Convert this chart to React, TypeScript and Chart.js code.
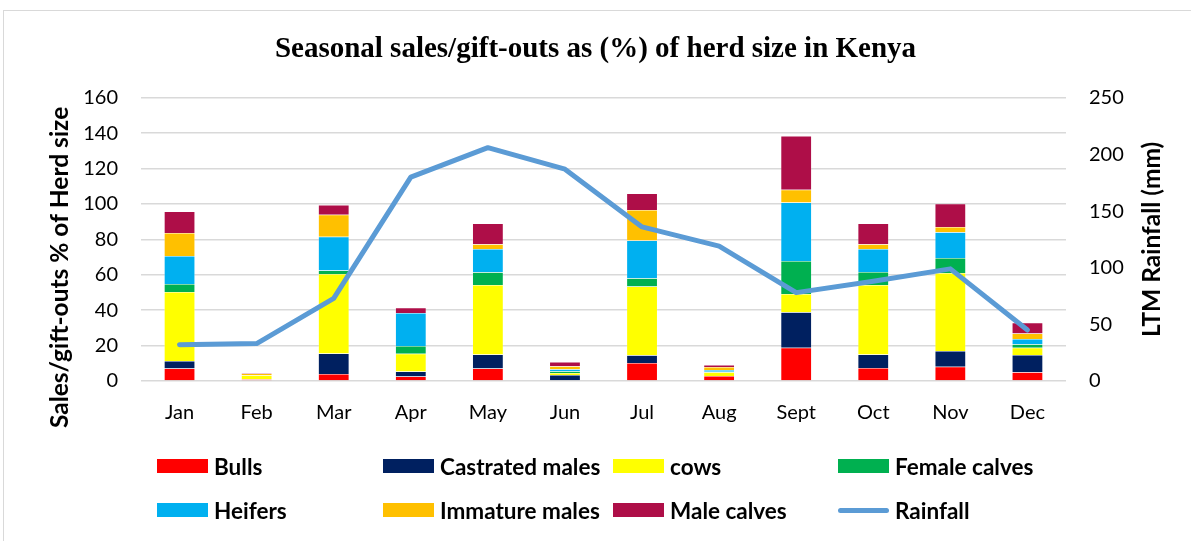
import React, { useEffect, useRef } from "react";
import { Chart, registerables } from "chart.js";

Chart.register(...registerables);

const titleText = "Seasonal sales/gift-outs as (%) of herd size in Kenya";
const leftAxisTitle = "Sales/gift-outs % of Herd size";
const rightAxisTitle = "LTM Rainfall (mm)";

const months = ["Jan", "Feb", "Mar", "Apr", "May", "Jun", "Jul", "Aug", "Sept", "Oct", "Nov", "Dec"];

const bulls = [7, 1, 4, 2.6, 7.1, 0, 10.2, 2.8, 18.8, 7.3, 8.1, 4.9];
const castratedMales = [4.3, 0, 11.6, 2.7, 7.9, 3.4, 4.3, 0, 20, 7.7, 8.8, 9.8];
const cows = [39, 2.3, 44.8, 10.1, 39.2, 1.1, 38.9, 2.1, 10.4, 39.2, 44.1, 4.1];
const femaleCalves = [4.5, 0, 2.1, 4.4, 7.2, 1, 4.6, 0.3, 18.6, 7.4, 8.5, 1.9];
const heifers = [15.8, 0, 19, 18.6, 13.2, 1.1, 21.4, 1.0, 33.1, 13, 14.5, 3];
const immatureMales = [13, 1, 12.4, 0, 2.6, 1.7, 17.2, 1.7, 7.2, 2.6, 3, 3.2];
const maleCalves = [12.1, 0.3, 5.6, 3, 11.8, 2.4, 9.4, 1.1, 30.3, 11.8, 13.2, 6];
const rainfall = [32, 33, 73, 180, 206, 187, 136, 119, 78, 88, 99, 45];

const leftTicks = { min: 0, max: 160, step: 20 };
const rightTicks = { min: 0, max: 250, step: 50 };

const barSeries = [
  { label: "Bulls", data: bulls, color: "#FF0000" },
  { label: "Castrated males", data: castratedMales, color: "#002060" },
  { label: "cows", data: cows, color: "#FFFF00" },
  { label: "Female calves", data: femaleCalves, color: "#00B050" },
  { label: "Heifers", data: heifers, color: "#00B0F0" },
  { label: "Immature males", data: immatureMales, color: "#FFC000" },
  { label: "Male calves", data: maleCalves, color: "#AE0E48" },
];
const rainColor = "#5B9BD5";

const legendOrder = [
  ["Bulls", "Castrated males", "cows", "Female calves"],
  ["Heifers", "Immature males", "Male calves", "Rainfall"],
];

const FONT = "Lato, 'Open Sans', sans-serif";

export default function App() {
  const ref = useRef<HTMLCanvasElement>(null);

  useEffect(() => {
    if (!ref.current) return;
    const axisTitles = {
      id: "axisTitles",
      afterDraw(chart: any) {
        const { ctx, chartArea } = chart;
        const midY = (chartArea.top + chartArea.bottom) / 2;
        ctx.save();
        ctx.font = `bold 24.5px ${FONT}`;
        ctx.fillStyle = "#000";
        ctx.textAlign = "center";
        ctx.textBaseline = "middle";
        ctx.save();
        ctx.translate(chartArea.left - 81, midY + 28);
        ctx.rotate(-Math.PI / 2);
        ctx.fillText(leftAxisTitle, 0, 0);
        ctx.restore();
        ctx.save();
        ctx.translate(chartArea.right + 86, midY);
        ctx.rotate(-Math.PI / 2);
        ctx.fillText(rightAxisTitle, 0, 0);
        ctx.restore();
        ctx.restore();
      },
    };

    const chart = new Chart(ref.current, {
      type: "bar",
      data: {
        labels: months,
        datasets: [
          {
            type: "line",
            label: "Rainfall",
            data: rainfall,
            yAxisID: "y1",
            borderColor: rainColor,
            backgroundColor: rainColor,
            borderWidth: 5,
            pointRadius: 0,
            borderCapStyle: "round",
            borderJoinStyle: "round",
            tension: 0,
            order: 0,
          } as any,
          ...barSeries.map((s) => ({
            type: "bar",
            label: s.label,
            data: s.data,
            backgroundColor: s.color,
            borderColor: "rgba(255,255,255,0.5)",
            borderWidth: 0.5,
            yAxisID: "y",
            stack: "herd",
            barPercentage: 0.4,
            categoryPercentage: 1,
            order: 1,
          })),
        ] as any,
      },
      options: {
        responsive: false,
        animation: false,
        layout: { padding: { top: 0, left: 0, right: 0, bottom: 100 } },
        plugins: {
          legend: { display: false },
          tooltip: { enabled: false },
          title: {
            display: true,
            text: titleText,
            color: "#000",
            font: { family: "'Liberation Serif', 'Times New Roman', serif", size: 29, weight: "bold" },
            padding: { top: 32, bottom: 31 },
          },
        },
        scales: {
          x: {
            stacked: true,
            grid: { display: false, drawTicks: false, tickLength: 0 },
            border: { display: false },
            ticks: { color: "#000", font: { family: FONT, size: 20 }, padding: 20 },
            afterFit: (s: any) => {
              s.height = 60;
            },
          },
          y: {
            stacked: true,
            position: "left",
            min: leftTicks.min,
            max: leftTicks.max,
            ticks: { stepSize: leftTicks.step, color: "#000", font: { family: FONT, size: 20 }, padding: 23 },
            grid: { color: "#D9D9D9", lineWidth: 1.5, drawTicks: false, tickLength: 0 },
            border: { display: false },
            afterFit: (s: any) => {
              s.width = 141;
            },
          },
          y1: {
            position: "right",
            min: rightTicks.min,
            max: rightTicks.max,
            ticks: { stepSize: rightTicks.step, color: "#000", font: { family: FONT, size: 20 }, padding: 23 },
            grid: { display: false, drawTicks: false, tickLength: 0 },
            border: { display: false },
            afterFit: (s: any) => {
              s.width = 125;
            },
          },
        },
      } as any,
      plugins: [axisTitles],
    });
    return () => chart.destroy();
  }, []);

  const colorOf = (label: string) => barSeries.find((s) => s.label === label)?.color;
  const colX = [157, 383, 613, 838];
  const rowY = [466, 510];

  return (
    <div
      style={{
        position: "fixed",
        left: 0,
        top: 0,
        width: 1191,
        height: 541,
        background: "#fff",
        overflow: "hidden",
      }}
    >
      <div
        style={{
          position: "absolute",
          left: 3,
          top: 10,
          width: 1300,
          height: 700,
          border: "1.5px solid #D9D9D9",
          boxSizing: "border-box",
        }}
      />
      <canvas ref={ref} width={1191} height={541} style={{ position: "absolute", left: 0, top: 0 }} />
      {legendOrder.map((row, ri) =>
        row.map((label, ci) => (
          <div
            key={label}
            style={{
              position: "absolute",
              left: colX[ci],
              top: rowY[ri] - 15,
              height: 30,
              display: "flex",
              alignItems: "center",
              fontFamily: FONT,
              fontWeight: "bold",
              fontSize: 22.5,
              color: "#000",
              whiteSpace: "nowrap",
            }}
          >
            {label === "Rainfall" ? (
              <span
                style={{
                  display: "inline-block",
                  width: 51,
                  height: 5,
                  borderRadius: 3,
                  background: rainColor,
                  marginRight: 6,
                }}
              />
            ) : (
              <span
                style={{
                  display: "inline-block",
                  width: 51,
                  height: 14,
                  background: colorOf(label),
                  marginRight: 6,
                }}
              />
            )}
            <span>{label}</span>
          </div>
        ))
      )}
    </div>
  );
}
